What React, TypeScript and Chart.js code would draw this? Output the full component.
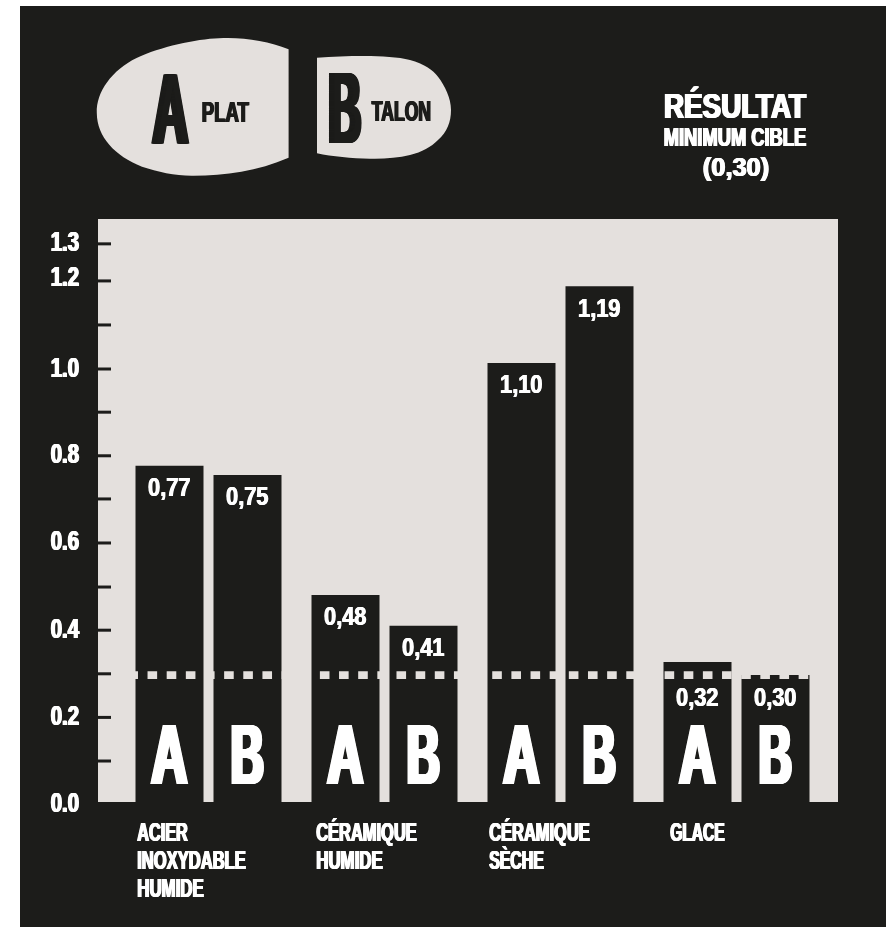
import React, { useEffect, useRef } from "react";
import { Chart, registerables } from "chart.js";

Chart.register(...registerables);

const categories = [
  ["ACIER", "INOXYDABLE", "HUMIDE"],
  ["CÉRAMIQUE", "HUMIDE"],
  ["CÉRAMIQUE", "SÈCHE"],
  ["GLACE"],
];
const platHeights = [0.771, 0.475, 1.007, 0.321];
const talonHeights = [0.75, 0.404, 1.183, 0.291];
const platLabels = ["0,77", "0,48", "1,10", "0,32"];
const talonLabels = ["0,75", "0,41", "1,19", "0,30"];
const seriesLetters = ["A", "B"];
const tickValues = [0, 0.094, 0.194, 0.294, 0.394, 0.493, 0.594, 0.695, 0.794, 0.894, 0.993, 1.094, 1.195, 1.28];
const tickLabels = ["0.0", "", "0.2", "", "0.4", "", "0.6", "", "0.8", "", "1.0", "", "1.2", "1.3"];
const targetValue = 0.291;
const targetSpan = [0.0112, 0.98];

const DARK = "#1c1c1a";
const LIGHT = "#e4e0dd";
const WHITE = "#ffffff";
const FONT = '"Liberation Sans", sans-serif';

function squeezed(ctx: CanvasRenderingContext2D, text: string, x: number, baseline: number, capHeight: number, width: number, align: "left" | "center" | "right" = "left", color = WHITE) {
  ctx.save();
  const size = capHeight / 0.729;
  ctx.font = `bold ${size}px ${FONT}`;
  ctx.textBaseline = "alphabetic";
  ctx.textAlign = "left";
  ctx.fillStyle = color;
  const natural = ctx.measureText(text).width;
  const d = capHeight * 0.04; // faux heavy stems: thicken horizontally only
  const k = (width - 2 * d) / natural;
  const left = align === "center" ? x - width / 2 : align === "right" ? x - width : x;
  for (let o = 0; o <= 2 * d + 0.001; o += 0.5) {
    ctx.save();
    ctx.translate(left + o, baseline);
    ctx.scale(k, 1);
    ctx.fillText(text, 0, 0);
    ctx.restore();
  }
  ctx.restore();
}

const posterPlugin = {
  id: "poster",
  beforeDraw(chart: any) {
    const { ctx, chartArea: a } = chart;
    ctx.save();
    ctx.fillStyle = WHITE;
    ctx.fillRect(0, 0, chart.width, chart.height);
    ctx.fillStyle = DARK;
    ctx.fillRect(20, 6, chart.width - 20, chart.height - 6);
    ctx.fillStyle = LIGHT;
    ctx.fillRect(a.left - 22.5, a.top, a.width + 36, a.height);
    // legend soles
    ctx.beginPath();
    ctx.moveTo(288.6, 49.3);
    ctx.bezierCurveTo(268, 41, 243, 37, 219, 38.3);
    ctx.bezierCurveTo(196, 39, 160, 47, 136.6, 58);
    ctx.bezierCurveTo(112, 70, 96, 92, 96.8, 113);
    ctx.bezierCurveTo(97, 137, 115, 156, 142, 166.7);
    ctx.bezierCurveTo(158, 172, 176, 176, 193.5, 175.7);
    ctx.bezierCurveTo(225, 175.5, 258, 171, 288.6, 157.7);
    ctx.closePath();
    ctx.fill();
    ctx.beginPath();
    ctx.moveTo(317, 57.7);
    ctx.bezierCurveTo(332, 56.5, 348, 56, 364, 56);
    ctx.bezierCurveTo(382, 56, 398, 57, 410, 60);
    ctx.bezierCurveTo(424, 64, 433, 70, 438, 76.7);
    ctx.bezierCurveTo(445, 86, 451, 98, 451, 110);
    ctx.bezierCurveTo(451, 122, 447, 132, 438, 140);
    ctx.bezierCurveTo(431, 147, 422, 152, 410, 155);
    ctx.bezierCurveTo(398, 158, 384, 159, 370, 158.7);
    ctx.bezierCurveTo(352, 158.5, 332, 156.5, 317, 153.3);
    ctx.closePath();
    ctx.fill();
    ctx.restore();
  },
  afterDraw(chart: any) {
    const { ctx } = chart;
    const yScale = chart.scales.y;
    // inner tick marks on the axis, and their labels
    ctx.save();
    ctx.fillStyle = DARK;
    tickValues.forEach((v, i) => {
      if (i === 0) return;
      ctx.fillRect(98, yScale.getPixelForValue(v) - 1.5, 13, 3);
    });
    ctx.restore();
    const baselineNudge: Record<string, number> = { "0.0": 9.5, "1.2": 5 };
    tickValues.forEach((v, i) => {
      const label = tickLabels[i];
      if (!label) return;
      squeezed(ctx, label, 80, yScale.getPixelForValue(v) + (baselineNudge[label] ?? 7.5), 20.5, 30, "right");
    });

    // legend text
    squeezed(ctx, "A", 150, 144, 73, 41, "left", DARK);
    squeezed(ctx, "PLAT", 201, 122, 22, 49, "left", DARK);
    squeezed(ctx, "B", 326, 143, 74, 38, "left", DARK);
    squeezed(ctx, "TALON", 371, 121, 21, 61, "left", DARK);
    // title text
    squeezed(ctx, "RÉSULTAT", 663, 118, 25, 144);
    squeezed(ctx, "MINIMUM CIBLE", 663, 146, 19, 144);
    squeezed(ctx, "(0,30)", 736, 176, 19, 68, "center");

    // category labels
    const xScale = chart.scales.x;
    const lineWidths: Record<string, number> = { ACIER: 52, INOXYDABLE: 110, HUMIDE: 68, "CÉRAMIQUE": 102, "SÈCHE": 56, GLACE: 56 };
    categories.forEach((lines, i) => {
      const left = xScale.getPixelForValue(i) - 72;
      lines.forEach((line, j) => {
        squeezed(ctx, line, left + (i === 1 ? 3 : i === 3 ? 5 : 0), 841 + j * 28, 19, lineWidths[line]);
      });
    });

    // value labels and letters in bars
    chart.data.datasets.forEach((ds: any, di: number) => {
      if (ds.type === "line") return;
      const series = di - 1;
      const meta = chart.getDatasetMeta(di);
      const labels = series === 0 ? platLabels : talonLabels;
      meta.data.forEach((bar: any, i: number) => {
        const isShallow = labels[i] === "0,32";
        squeezed(ctx, labels[i], bar.x, bar.y + (isShallow ? 44 : 30.5), 18.5, 44, "center");
        squeezed(ctx, seriesLetters[series], bar.x, 784, 62, series === 0 ? 41 : 38, "center");
      });
    });
  },
};

// With a second x axis in the chart, Chart.js divides each category into
// (axes × bars) slots, so the category share is doubled to keep the group width.
const CATEGORY_SHARE = 0.8864 * 2;
const BAR_SHARE = 0.8718;

export default function App() {
  const ref = useRef<HTMLCanvasElement>(null);
  useEffect(() => {
    const chart = new Chart(ref.current!, {
      type: "bar",
      data: {
        labels: categories as any,
        datasets: [
          { type: "line", label: "Minimum cible", data: targetSpan.map((x) => ({ x, y: targetValue })), xAxisID: "xLine", borderColor: LIGHT, borderWidth: 7.7, borderDash: [9.6, 9.55], pointRadius: 0, order: 0, clip: false } as any,
          { type: "bar", label: "Plat", data: platHeights, backgroundColor: DARK, categoryPercentage: CATEGORY_SHARE, barPercentage: BAR_SHARE, order: 1 } as any,
          { type: "bar", label: "Talon", data: talonHeights, backgroundColor: DARK, categoryPercentage: CATEGORY_SHARE, barPercentage: BAR_SHARE, order: 1 } as any,
        ],
      },
      options: {
        responsive: false,
        animation: false,
        layout: { padding: { left: 0, right: 61.5, top: 219, bottom: 125 } },
        plugins: { legend: { display: false }, tooltip: { enabled: false } },
        scales: {
          x: { offset: true, ticks: { display: false }, grid: { display: false }, border: { display: false }, afterFit: (s: any) => { s.height = 0; } },
          xLine: { type: "linear", display: false, offset: false, min: 0, max: 1 },
          y: {
            min: 0,
            max: 1.337,
            afterBuildTicks: (s: any) => { s.ticks = tickValues.map((value) => ({ value })); },
            afterFit: (s: any) => { s.width = 120.5; },
            grid: { display: false },
            border: { display: false },
            ticks: { display: false, autoSkip: false, callback: (_: any, i: number) => tickLabels[i] },
          },
        },
      },
      plugins: [posterPlugin],
    } as any);
    return () => chart.destroy();
  }, []);
  return (
    <div style={{ position: "fixed", left: 0, top: 0, width: 886, height: 927 }}>
      <canvas ref={ref} width={886} height={927} style={{ display: "block" }} />
    </div>
  );
}
